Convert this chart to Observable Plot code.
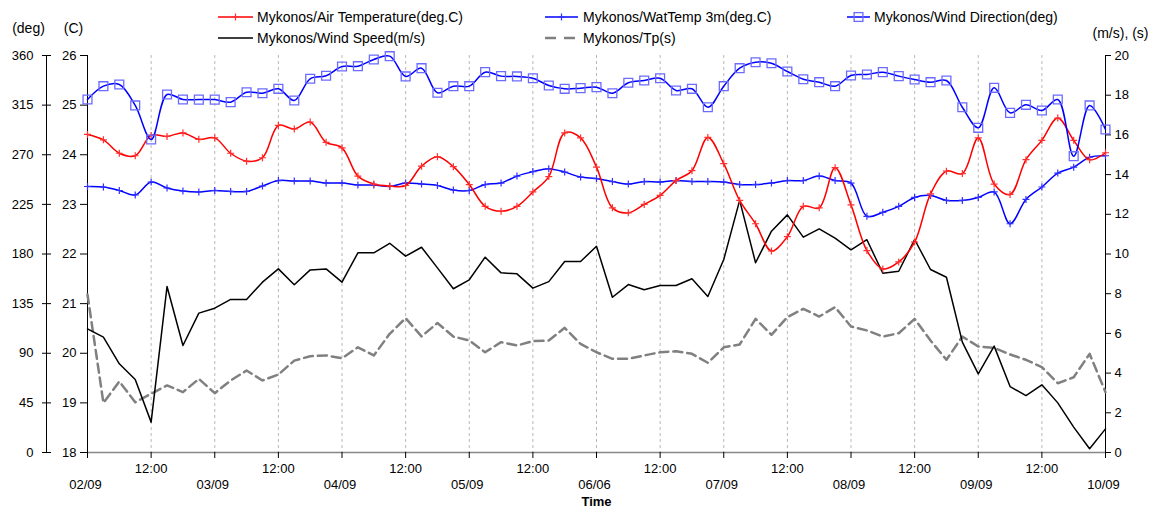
<!DOCTYPE html>
<html><head><meta charset="utf-8">
<script src="https://cdn.jsdelivr.net/npm/d3@7"></script>
<script src="https://cdn.jsdelivr.net/npm/@observablehq/plot@0.6"></script>
<style>body{margin:0;background:#fff;} #chart svg{display:block;}</style>
</head><body><div id="chart"></div>
<script>
// ---- data ----
const seriesNames = ["Mykonos/Air Temperature(deg.C)", "Mykonos/WatTemp 3m(deg.C)", "Mykonos/Wind Direction(deg)", "Mykonos/Wind Speed(m/s)", "Mykonos/Tp(s)"];
const dateLabels = ["02/09", "03/09", "04/09", "05/09", "06/06", "07/09", "08/09", "09/09", "10/09"];
const noonLabel = "12:00";
const degTicks = [0, 45, 90, 135, 180, 225, 270, 315, 360];
const cTicks = [18, 19, 20, 21, 22, 23, 24, 25, 26];
const msTicks = [0, 2, 4, 6, 8, 10, 12, 14, 16, 18, 20];
const startTime = "2008-09-02T00:00:00Z";
const stepHours = 3;

const windDir = [320.1, 332.2, 333.7, 314.7, 283.8, 324.6, 320.1, 320, 320, 317.7, 326.7, 325.8, 329.8, 319.2, 338.9, 341.6, 350, 350.3, 356.4, 359.4, 341, 348.5,
  326.2, 332.2, 332.2, 344.9, 341.3, 341, 339.4, 332.8, 329.8, 330.4, 331.3, 325.8, 335.3, 337.3, 339.4, 328.3, 329.8, 313.1, 332.2, 348.5, 353.9,
  353, 345.5, 338.5, 335.8, 332.2, 341.9, 342.8, 344.9, 341.3, 338.2, 335.8, 337.3, 313.1, 294.4, 330.7, 308, 315.3, 310.1, 320.1, 268.7, 314.7, 292.9];
const airTemp = [24.41, 24.30, 24.03, 23.98, 24.39, 24.37, 24.44, 24.31, 24.34, 24.03, 23.87, 23.94, 24.59, 24.52, 24.66, 24.25, 24.14, 23.57, 23.41, 23.37, 23.38, 23.77,
  23.96, 23.76, 23.40, 22.96, 22.86, 22.96, 23.25, 23.56, 24.44, 24.34, 23.75, 22.93, 22.83, 23.00, 23.18, 23.48, 23.68, 24.35, 23.82, 23.08, 22.61,
  22.06, 22.35, 22.96, 22.93, 23.74, 22.99, 22.07, 21.70, 21.84, 22.24, 23.21, 23.67, 23.62, 24.34, 23.41, 23.20, 23.90, 24.29, 24.74, 24.29, 23.90, 24.04];
const watTemp = [23.36, 23.35, 23.28, 23.19, 23.45, 23.33, 23.27, 23.25, 23.28, 23.26, 23.26, 23.37, 23.48, 23.47, 23.47, 23.43, 23.43, 23.39, 23.39, 23.36, 23.43, 23.41,
  23.38, 23.29, 23.28, 23.40, 23.43, 23.57, 23.66, 23.72, 23.65, 23.55, 23.52, 23.46, 23.41, 23.46, 23.45, 23.48, 23.46, 23.46, 23.45, 23.40, 23.40,
  23.43, 23.48, 23.48, 23.57, 23.48, 23.43, 22.76, 22.84, 22.96, 23.14, 23.18, 23.08, 23.08, 23.14, 23.25, 22.61, 23.10, 23.35, 23.63, 23.75, 23.95, 23.98];
const windSpeed = [6.23, 5.81, 4.47, 3.68, 1.53, 8.36, 5.39, 7.02, 7.27, 7.71, 7.71, 8.58, 9.25, 8.45, 9.20, 9.25, 8.58, 10.06, 10.06, 10.54, 9.89, 10.34,
  9.3, 8.25, 8.70, 9.84, 9.05, 9.00, 8.28, 8.61, 9.62, 9.62, 10.39, 7.82, 8.46, 8.20, 8.41, 8.41, 8.75, 7.86, 9.72, 12.70, 9.56,
  11.15, 11.97, 10.85, 11.27, 10.80, 10.21, 10.72, 9.03, 9.13, 10.73, 9.22, 8.83, 5.56, 3.96, 5.36, 3.32, 2.87, 3.41, 2.50, 1.28, 0.19, 1.19];
const tp = [7.96, 2.50, 3.58, 2.53, 2.96, 3.38, 3.04, 3.71, 2.99, 3.63, 4.13, 3.63, 3.93, 4.63, 4.85, 4.89, 4.75, 5.30, 4.89, 5.98, 6.77, 5.85,
  6.52, 5.84, 5.64, 5.05, 5.56, 5.39, 5.61, 5.64, 6.28, 5.47, 5.05, 4.72, 4.72, 4.89, 5.05, 5.10, 4.97, 4.52, 5.30, 5.44, 6.73,
  5.93, 6.82, 7.24, 6.85, 7.32, 6.35, 6.15, 5.84, 6.01, 6.73, 5.64, 4.67, 5.84, 5.34, 5.27, 4.94, 4.67, 4.30, 3.49, 3.79, 4.97, 3.04];

// ---- build ----
const W = 1151, H = 510;
const HOUR = 3600e3;
const t0 = new Date(startTime);
const times = windDir.map((_, i) => new Date(+t0 + i * stepHours * HOUR));
const tEnd = times[times.length - 1];
const halfDays = d3.range(dateLabels.length * 2 - 1).map(k => new Date(+t0 + k * 12 * HOUR));
const midnights = halfDays.filter((_, k) => k % 2 === 0);
const noons = halfDays.filter((_, k) => k % 2 === 1);

// all series share the deg scale (0..360); C and m/s are mapped onto it
const cMin = cTicks[0], cMax = cTicks[cTicks.length - 1];
const sMax = msTicks[msTicks.length - 1];
const degMax = degTicks[degTicks.length - 1];
const cToY = c => (c - cMin) / (cMax - cMin) * degMax;
const sToY = v => v / sMax * degMax;

const rows = times.map((t, i) => ({
  t, dir: windDir[i], air: cToY(airTemp[i]), wat: cToY(watTemp[i]), ws: sToY(windSpeed[i]), tp: sToY(tp[i])
}));

const plusSymbol = {draw(ctx, size) { const r = Math.sqrt(size / Math.PI); ctx.moveTo(-r, 0); ctx.lineTo(r, 0); ctx.moveTo(0, -r); ctx.lineTo(0, r); }};

const FONT = "'Liberation Sans', Arial, Helvetica, sans-serif";

const chart = Plot.plot({
  width: W, height: H,
  marginLeft: 87, marginRight: 46, marginTop: 55, marginBottom: 58,
  style: {fontFamily: FONT, fontSize: "13px", background: "#fff", color: "#000", overflow: "visible"},
  x: {type: "utc", domain: [t0, tEnd]},
  y: {domain: [0, degMax]},
  marks: [
    Plot.ruleX(halfDays.slice(1, -1), {stroke: "#b8b8b8", strokeDasharray: "3,3"}),
    Plot.ruleY([0], {stroke: "#888", strokeWidth: 1.5}),
    Plot.ruleX([t0], {stroke: "#000"}),
    Plot.ruleX([t0], {stroke: "#000", dx: -41}),
    Plot.ruleX([tEnd], {stroke: "#000"}),
    Plot.axisY({anchor: "left", ticks: degTicks, tickFormat: (d, i) => String(degTicks[i]), tickSize: 9, tickPadding: 9, dx: -36, label: null}),
    Plot.axisY({anchor: "left", ticks: cTicks.map(cToY), tickFormat: (d, i) => String(cTicks[i]), tickSize: 7, tickPadding: 4, label: null}),
    Plot.axisY({anchor: "right", ticks: msTicks.map(sToY), tickFormat: (d, i) => String(msTicks[i]), tickSize: 5, tickPadding: 4, label: null}),
    Plot.axisX({ticks: halfDays, tickFormat: () => "", tickSize: 6, label: null}),
    Plot.text(noons, {x: d => d, text: () => noonLabel, frameAnchor: "bottom", dy: 20, textAnchor: "middle"}),
    Plot.text(midnights, {x: d => d, text: (d, i) => dateLabels[i], frameAnchor: "bottom", dy: 36, dx: -2, textAnchor: "middle"}),
    Plot.text(["Time"], {text: d => d, frameAnchor: "bottom", dy: 53, fontWeight: "bold", textAnchor: "middle"}),
    Plot.text(["(deg)"], {text: d => d, frameAnchor: "top-left", dx: -59, dy: -32, textAnchor: "middle", fontSize: 14}),
    Plot.text(["(C)"], {text: d => d, frameAnchor: "top-left", dx: -14, dy: -32, textAnchor: "middle", fontSize: 14}),
    Plot.text(["(m/s), (s)"], {text: d => d, frameAnchor: "top-right", dx: 15, dy: -27, textAnchor: "middle", fontSize: 14}),

    Plot.line(rows, {x: "t", y: "tp", stroke: "#808080", strokeWidth: 2.5, strokeDasharray: "9,5"}),
    Plot.line(rows, {x: "t", y: "ws", stroke: "#000", strokeWidth: 1.5}),
    Plot.line(rows, {x: "t", y: "wat", stroke: "#0000ff", strokeWidth: 1.5, curve: "catmull-rom"}),
    Plot.dot(rows, {x: "t", y: "wat", symbol: plusSymbol, r: 3.5, stroke: "#3030ff", fill: "none", strokeWidth: 1.2}),
    Plot.line(rows, {x: "t", y: "air", stroke: "#ff0000", strokeWidth: 1.5, curve: "catmull-rom"}),
    Plot.dot(rows, {x: "t", y: "air", symbol: plusSymbol, r: 3.5, stroke: "#ff3030", fill: "none", strokeWidth: 1.2}),
    Plot.line(rows, {x: "t", y: "dir", stroke: "#0000ff", strokeWidth: 1.5, curve: "catmull-rom"}),
    Plot.dot(rows, {x: "t", y: "dir", symbol: "square", r: 5, stroke: "#6b6bff", fill: "none", strokeWidth: 1.3})
  ]
});

document.getElementById("chart").appendChild(chart);

// ---- legend (inside the svg, above the frame) ----
const svg = d3.select(chart);
const legendStyle = [
  {x0: 218, x1: 253, tx: 257, y: 17, stroke: "#ff0000", markerStroke: "#ff3030", marker: "plus", dash: null, w: 1.5},
  {x0: 545, x1: 578, tx: 583, y: 17, stroke: "#0000ff", markerStroke: "#3030ff", marker: "plus", dash: null, w: 1.5},
  {x0: 847, x1: 870, tx: 874, y: 17, stroke: "#0000ff", markerStroke: "#6b6bff", marker: "square", dash: null, w: 1.5},
  {x0: 218, x1: 253, tx: 257, y: 38, stroke: "#000", marker: null, dash: null, w: 1.5},
  {x0: 545, x1: 575, tx: 583, y: 38, stroke: "#808080", marker: null, dash: "11,8", w: 2.5}
];
const lg = svg.append("g").attr("font-family", FONT).attr("font-size", 14).attr("text-anchor", "start");
seriesNames.forEach((name, i) => {
  const s = legendStyle[i];
  lg.append("line").attr("x1", s.x0).attr("x2", s.x1).attr("y1", s.y).attr("y2", s.y)
    .attr("stroke", s.stroke).attr("stroke-width", s.w).attr("stroke-dasharray", s.dash);
  const cx = (s.x0 + s.x1) / 2;
  if (s.marker === "plus") {
    lg.append("path").attr("d", `M${cx - 3.5},${s.y}H${cx + 3.5}M${cx},${s.y - 3.5}V${s.y + 3.5}`)
      .attr("stroke", s.markerStroke).attr("stroke-width", 1.2).attr("fill", "none");
  } else if (s.marker === "square") {
    lg.append("rect").attr("x", cx - 4.4).attr("y", s.y - 4.4).attr("width", 8.8).attr("height", 8.8)
      .attr("stroke", s.markerStroke).attr("stroke-width", 1.3).attr("fill", "none");
  }
  lg.append("text").attr("x", s.tx).attr("y", s.y).attr("dy", "0.35em").attr("text-anchor", "start").attr("fill", "#000").text(name);
});
</script>
</body></html>
